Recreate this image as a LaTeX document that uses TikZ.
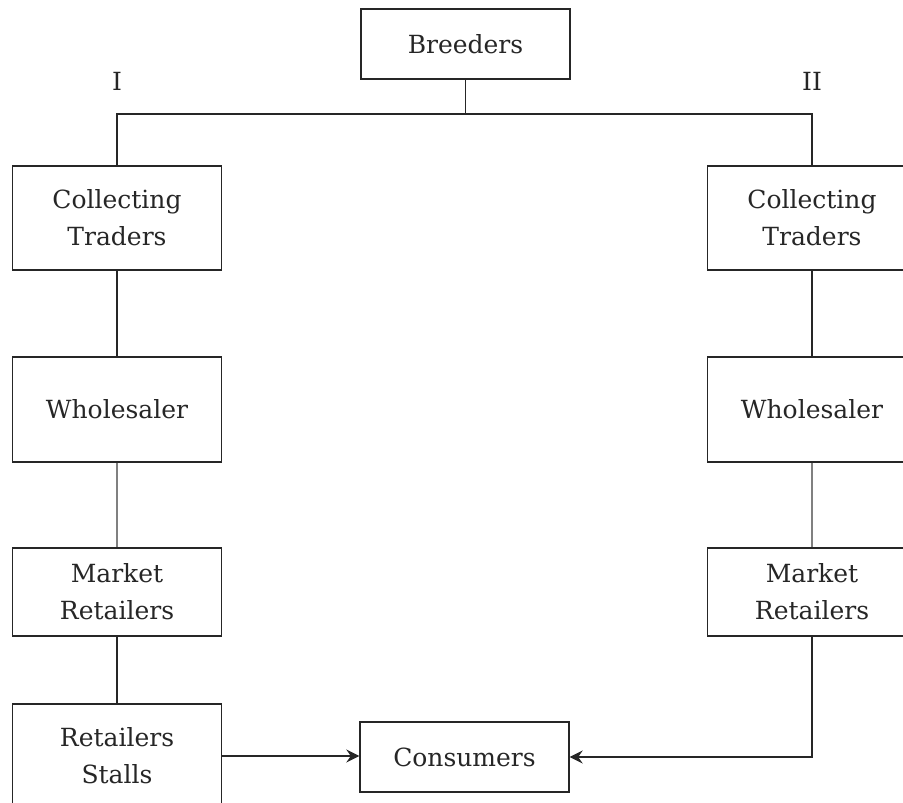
\documentclass[tikz,border=0pt]{standalone}
\usepackage{fontspec}
\setmainfont{DejaVu Serif}
\usetikzlibrary{arrows.meta}
\tikzset{box/.style={draw=black!85,line width=1.4pt,minimum width=209pt,
		inner sep=0pt,align=center,text=black!85,font=\fontsize{25}{37}\selectfont},
	link/.style={draw=black!85,line width=1.4pt},
	tip/.style={-{Stealth[length=13pt,width=13pt,inset=4.5pt]}}}
\begin{document}
\begin{tikzpicture}[x=1pt,y=-1pt]
			\clip (0,0) rectangle (903,803);
			\node[box,minimum height=70pt] (breed) at (465.5,44) {Breeders};
			\foreach \x/\texn in {117/I, 812/II} \path
			(\x,81)node[text=black!85,font=\fontsize{25}{37}\selectfont]{\texn};
			\foreach \x/\s in {117/1, 812/2} {
				\node[box,minimum height=104pt] (ct\s) at (\x,218) {Collecting\\Traders};
				\node[box,minimum height=105pt] (wh\s) at (\x,409.5) {Wholesaler};
				\node[box,minimum height=88pt] (mr\s) at (\x,592) {Market\\Retailers};
				\draw[link] (ct\s)--(wh\s);
				\draw[link,draw=black!50] (wh\s)--(mr\s);
			}
			\node[box,minimum height=104pt] (rs1) at (117,756) {Retailers\\Stalls};
			\node[box,minimum height=70pt] (cons) at (464.5,757) {Consumers};
			\coordinate (bus) at (465.5,114);
			\draw[link] (breed.south)--(bus);
			\draw[link] (ct1.north)--(ct1.north |- bus)--(ct2.north |- bus)--(ct2.north);
			\draw[link] (mr1)--(rs1);
			\draw[link,tip] (rs1.east)--(rs1.east -| cons.west);
			\draw[link,tip] (mr2.south) |- (cons.east);
		\end{tikzpicture}
\end{document}
